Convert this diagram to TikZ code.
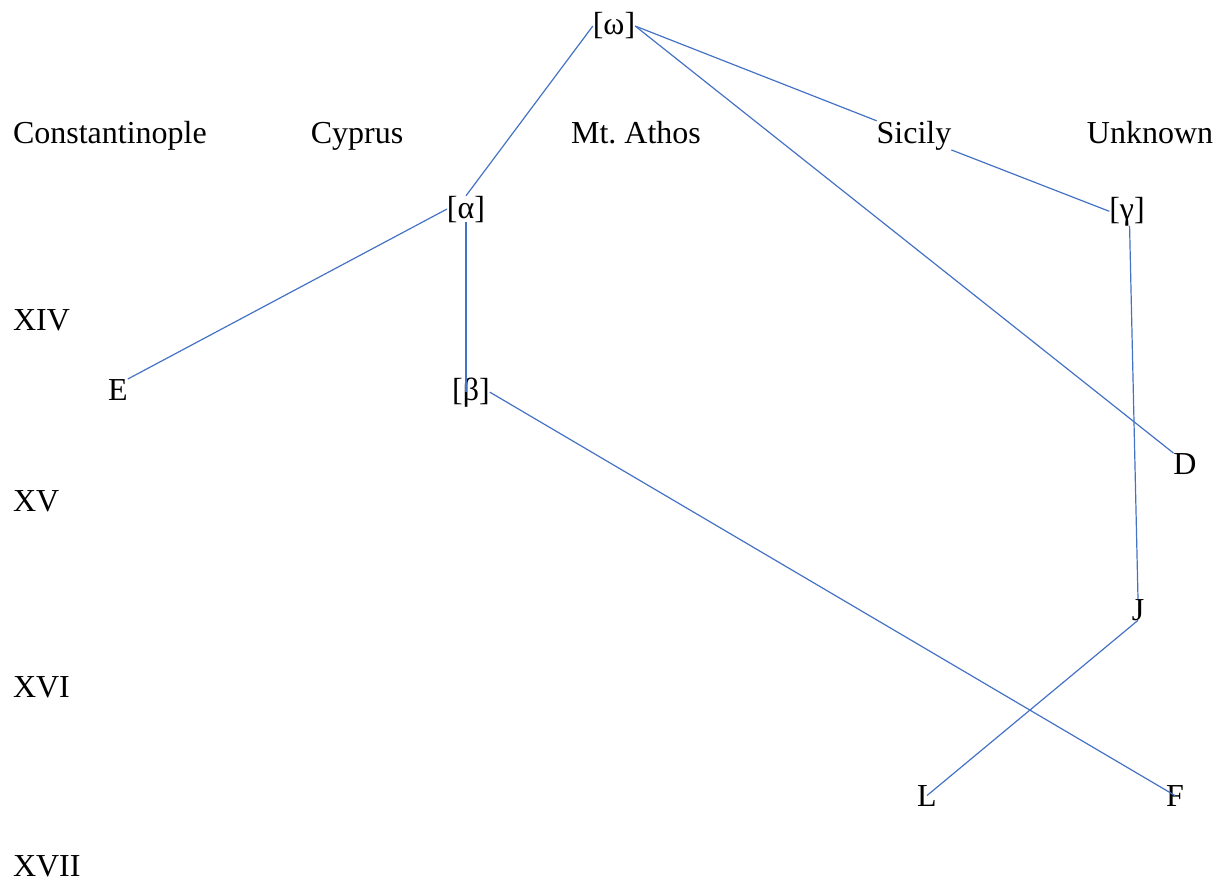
\documentclass[tikz,border=0pt]{standalone}
\usepackage{fontspec}
\setmainfont{Liberation Serif}
\definecolor{edgeblue}{RGB}{68,114,196}
\tikzset{
  lbl/.style={inner sep=0pt, outer sep=0pt, anchor=base, font=\fontsize{16}{19}\selectfont},
  lbll/.style={lbl, anchor=base west},
  edge/.style={draw=edgeblue, line width=0.6pt}
}
\begin{document}
\begin{tikzpicture}[x=0.5pt, y=-0.5pt]
\useasboundingbox (0,0) rectangle (1226,888);
% place names
\node[lbll] (cons) at (13,143) {Constantinople};
\node[lbl] (cyp) at (357,143) {Cyprus};
\node[lbl] (ath) at (636,143) {Mt.\ Athos};
\node[lbl] (sic) at (914,143) {Sicily};
\node[lbl] (unk) at (1150,143) {Unknown};
% centuries
\node[lbll] (c14) at (13,330) {XIV};
\node[lbll] (c15) at (13,511) {XV};
\node[lbll] (c16) at (13,697) {XVI};
\node[lbll] (c17) at (13,876) {XVII};
% manuscripts
\node[lbl] (w) at (614,35) {[ω]};
\node[lbl] (a) at (466,218) {[α]};
\node[lbl] (g) at (1127,219) {[γ]};
\node[lbl] (e) at (118,400) {E};
\node[lbl] (b) at (471,400) {[β]};
\node[lbl] (d) at (1185,474) {D};
\node[lbl] (j) at (1138,620) {J};
\node[lbl] (l) at (927,806) {L};
\node[lbl] (f) at (1175,806) {F};
% connectors
\draw[edge] (w.west) -- (a.north);
\draw[edge] (w.east) -- (sic.north west);
\draw[edge] (w.east) -- (d.north west);
\draw[edge] (sic.south east) -- (g.west);
\draw[edge] (a.west) -- (e.north east);
\draw[edge] (a.south) -- (a.south |- b.center);
\draw[edge] (b.east) -- (f.center);
\draw[edge] (g.-80) -- (j.north);
\draw[edge] (j.south) -- (l.center);
\end{tikzpicture}
\end{document}
